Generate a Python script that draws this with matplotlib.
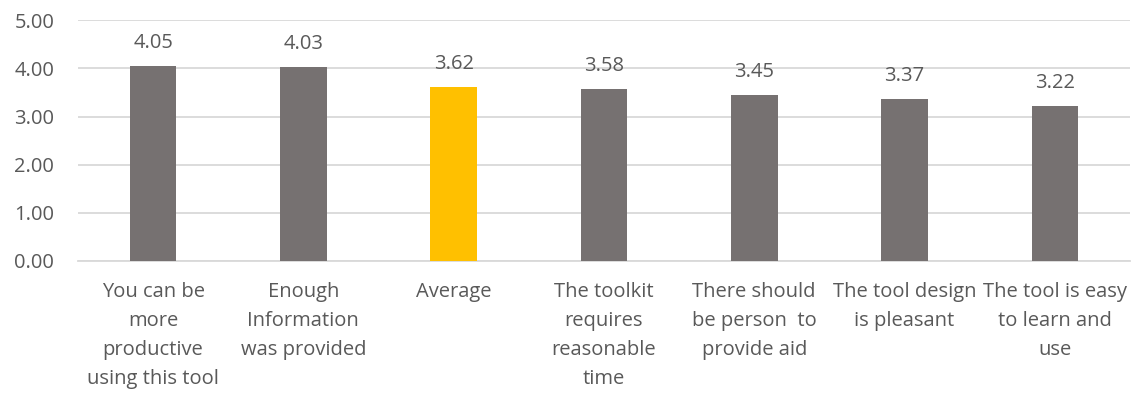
import matplotlib
matplotlib.use("Agg")
import matplotlib.pyplot as plt

# chart data
categories = [
    "You can be\nmore\nproductive\nusing this tool",
    "Enough\nInformation\nwas provided",
    "Average",
    "The toolkit\nrequires\nreasonable\ntime",
    "There should\nbe person  to\nprovide aid",
    "The tool design\nis pleasant",
    "The tool is easy\nto learn and\nuse",
]
scores = [4.05, 4.03, 3.62, 3.58, 3.45, 3.37, 3.22]
highlight = "Average"
y_ticks = [0, 1, 2, 3, 4, 5]

GRAY = "#767171"
GOLD = "#FFC000"
TEXT = "#595959"
GRID = "#D9D9D9"

plt.rcParams["font.family"] = ["Open Sans", "DejaVu Sans"]
FS = 14.5

fig = plt.figure(figsize=(11.46, 3.96), dpi=100)
ax = fig.add_axes([0.068, 0.341, 0.918, 0.608])

colors = [GOLD if c == highlight else GRAY for c in categories]
x = list(range(len(categories)))
bars = ax.bar(x, scores, width=0.31, color=colors, zorder=3)

for b, v in zip(bars, scores):
    ax.annotate(f"{v:.2f}", (b.get_x() + b.get_width() / 2, v),
                xytext=(0, 13), textcoords="offset points",
                ha="center", va="baseline", fontsize=FS, color=TEXT)

ax.set_xlim(-0.5, len(categories) - 0.5)
ax.set_ylim(0, 5)
ax.set_yticks(y_ticks)
ax.set_yticklabels([f"{t:.2f}" for t in y_ticks])
ax.yaxis.grid(True, color=GRID, linewidth=1.3, zorder=0)
ax.set_xticks(x)
ax.set_xticklabels(categories, linespacing=1.6)

ax.tick_params(axis="y", length=0, pad=17, labelsize=FS, labelcolor=TEXT)
ax.tick_params(axis="x", length=0, pad=15, labelsize=FS, labelcolor=TEXT)
for s in ["top", "right", "left"]:
    ax.spines[s].set_visible(False)
ax.spines["bottom"].set_color(GRID)
ax.spines["bottom"].set_linewidth(1.3)

fig.savefig("out.png", dpi=100)
